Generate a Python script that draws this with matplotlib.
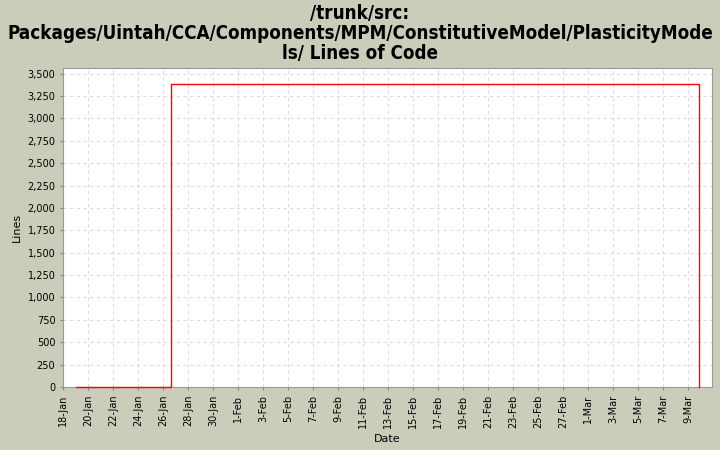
import matplotlib
matplotlib.use('Agg')
import matplotlib.pyplot as plt
from matplotlib.ticker import MultipleLocator, FuncFormatter
import pandas as pd

# dados
datas = pd.to_datetime(['2007-01-19 00:00', '2007-01-26 15:00', '2007-03-09 22:00'])
linhas = [0, 3385, 0]

titulo = '/trunk/src:\nPackages/Uintah/CCA/Components/MPM/ConstitutiveModel/PlasticityMode\nls/ Lines of Code'

FUNDO = '#CCCCBB'

fig = plt.figure(figsize=(7.2, 4.5), dpi=100, facecolor=FUNDO)
ax = fig.add_axes([63 / 720, 1 - 387 / 450, (712 - 63) / 720, (387 - 68) / 450])
ax.set_facecolor('white')

ax.plot(datas, linhas, drawstyle='steps-post', color='red', linewidth=1,
        zorder=5, clip_on=False)

ax.set_xlim(pd.Timestamp('2007-01-18'), pd.Timestamp('2007-03-10 22:00'))
ax.set_ylim(0, 3563)

ax.yaxis.set_major_locator(MultipleLocator(250))
ax.yaxis.set_major_formatter(FuncFormatter(lambda v, p: f'{int(v):,}'))
ticks = pd.date_range('2007-01-18', '2007-03-10', freq='2D')
ax.set_xticks(ticks)
ax.set_xticklabels([f'{d.day}-{d.strftime("%b")}' for d in ticks], rotation=90)

ax.tick_params(labelsize=7, length=2, color='#888888')
ax.grid(True, color='#DDDDDD', linestyle=(0, (3, 3)), linewidth=0.8)
for s in ax.spines.values():
    s.set_color('#999999')

ax.set_ylabel('Lines', fontsize=8)
ax.set_xlabel('Date', fontsize=8)

fig.suptitle(titulo, fontsize=13.5, fontweight='bold', fontstretch='condensed',
             y=0.991, va='top', linespacing=1.05)

fig.savefig('out.png', dpi=100, facecolor=FUNDO)
